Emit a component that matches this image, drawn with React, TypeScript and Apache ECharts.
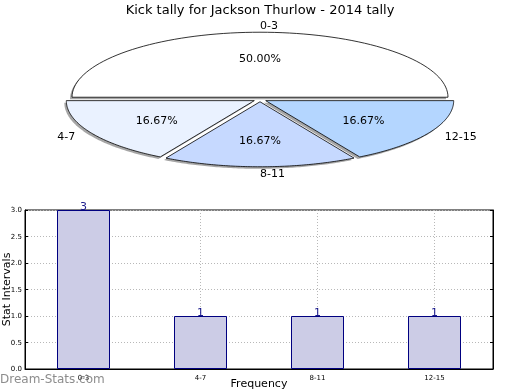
import React, { useEffect, useRef } from "react";
import * as echarts from "echarts";

const titleText = "Kick tally for Jackson Thurlow - 2014 tally";
const categories = ["0-3", "4-7", "8-11", "12-15"];
const tallyValues = [3, 1, 1, 1];
const sliceColors = ["#ffffff", "#eaf2ff", "#c6d9ff", "#b4d6ff"];
const yTicks = [0, 0.5, 1, 1.5, 2, 2.5, 3];
const watermark = "Dream-Stats.com";

const FONT = "DejaVu Sans";
const PIE = { cx: 260, cy: 99.5, rx: 188, ry: 65, explode: 0.035 };

function sliceGeom(idx: number) {
  const total = tallyValues.reduce((a, b) => a + b, 0);
  let before = 0;
  for (let i = 0; i < idx; i++) before += tallyValues[i];
  const a0 = (before / total) * 2 * Math.PI;
  const a1 = ((before + tallyValues[idx]) / total) * 2 * Math.PI;
  const mid = (a0 + a1) / 2;
  const ox = PIE.cx + Math.cos(mid) * PIE.explode * PIE.rx;
  const oy = PIE.cy - Math.sin(mid) * PIE.explode * PIE.ry;
  const pts: number[][] = [[ox, oy]];
  const n = 80;
  for (let k = 0; k <= n; k++) {
    const a = a0 + ((a1 - a0) * k) / n;
    pts.push([ox + Math.cos(a) * PIE.rx, oy - Math.sin(a) * PIE.ry]);
  }
  return { pts, mid, ox, oy, pct: (tallyValues[idx] / total) * 100 };
}

export default function App() {
  const ref = useRef<HTMLDivElement>(null);
  useEffect(() => {
    if (!ref.current) return;
    const chart = echarts.init(ref.current, null, { renderer: "svg" });
    const pieData = tallyValues.map((v, i) => ({ value: [v, i], name: categories[i] }));
    chart.setOption({
      animation: false,
      title: {
        text: titleText,
        left: "center",
        top: 1,
        padding: 0,
        textStyle: { fontFamily: FONT, fontSize: 13, fontWeight: "normal", color: "#000", lineHeight: 16 },
      },
      grid: {
        left: 25,
        right: 27,
        top: 210,
        bottom: 21,
        outerBoundsMode: "none",
        containLabel: false,
        show: true,
        borderColor: "#000",
        borderWidth: 1,
        backgroundColor: "transparent",
      },
      xAxis: {
        type: "category",
        data: categories,
        name: "Frequency",
        nameLocation: "middle",
        nameGap: 8,
        nameMoveOverlap: false,
        nameTextStyle: { fontFamily: FONT, fontSize: 11, color: "#000", lineHeight: 12 },
        axisLine: { lineStyle: { color: "#000" } },
        axisTick: { show: true, inside: true, alignWithLabel: true, length: 3, lineStyle: { color: "#000" } },
        axisLabel: { fontFamily: FONT, fontSize: 7, color: "#000", margin: 5 },
        splitLine: { show: true, alignWithLabel: true, lineStyle: { color: "#b8b8b8", type: [1, 2], width: 1 } },
      },
      yAxis: [
        {
          type: "value",
          min: yTicks[0],
          max: yTicks[yTicks.length - 1],
          interval: 0.5,
          name: "Stat Intervals",
          nameLocation: "middle",
          nameGap: 13,
          nameMoveOverlap: false,
          nameTextStyle: { fontFamily: FONT, fontSize: 11, color: "#000", lineHeight: 11 },
          axisLine: { show: true, lineStyle: { color: "#000" } },
          axisTick: { show: true, inside: true, length: 3, lineStyle: { color: "#000" } },
          axisLabel: { fontFamily: FONT, fontSize: 7, color: "#000", margin: 3, formatter: (v: number) => v.toFixed(1) },
          splitLine: { show: true, lineStyle: { color: "#b8b8b8", type: [1, 2], width: 1 } },
        },
        {
          type: "value",
          position: "right",
          min: yTicks[0],
          max: yTicks[yTicks.length - 1],
          interval: 0.5,
          axisLine: { show: true, lineStyle: { color: "#000" } },
          axisTick: { show: true, inside: true, length: 3, lineStyle: { color: "#000" } },
          axisLabel: { show: false },
          splitLine: { show: false },
        },
      ],
      series: [
        {
          type: "bar",
          data: tallyValues,
          barWidth: 53,
          itemStyle: { color: "#ccccE6", borderColor: "#000080", borderWidth: 1 },
          label: {
            show: true,
            position: "top",
            distance: -2,
            fontFamily: FONT,
            fontSize: 11,
            color: "#1a1a8c",
          },
          z: 3,
        },
        {
          type: "custom",
          coordinateSystem: "none",
          data: pieData,
          z: 1,
          renderItem: (params: any) => {
            const g = sliceGeom(params.dataIndex);
            return {
              type: "polygon",
              shape: { points: g.pts.map((p) => [p[0] - 2, p[1] + 2]) },
              style: { fill: "rgba(77,77,77,0.5)", stroke: "none" },
            };
          },
        },
        {
          type: "custom",
          coordinateSystem: "none",
          data: pieData,
          z: 2,
          renderItem: (params: any) => {
            const i = params.dataIndex;
            const g = sliceGeom(i);
            const c = Math.cos(g.mid);
            const s = Math.sin(g.mid);
            const lx = g.ox + c * 1.1 * PIE.rx;
            const ly = g.oy - s * 1.1 * PIE.ry;
            const px = g.ox + c * 0.6 * PIE.rx;
            const py = g.oy - s * 0.6 * PIE.ry;
            return {
              type: "group",
              children: [
                {
                  type: "polygon",
                  shape: { points: g.pts },
                  style: { fill: sliceColors[i], stroke: "#000", lineWidth: 0.8 },
                },
                {
                  type: "text",
                  x: px,
                  y: py,
                  style: {
                    text: g.pct.toFixed(2) + "%",
                    fontFamily: FONT,
                    fontSize: 11,
                    fill: "#000",
                    align: "center",
                    verticalAlign: "middle",
                  },
                },
                {
                  type: "text",
                  x: lx,
                  y: ly,
                  style: {
                    text: categories[i],
                    fontFamily: FONT,
                    fontSize: 11,
                    fill: "#000",
                    align: c >= -1e-9 ? "left" : "right",
                    verticalAlign: "middle",
                  },
                },
              ],
            };
          },
        },
      ],
      graphic: [
        {
          type: "text",
          left: 0,
          top: 373,
          z: 100,
          style: {
            text: watermark,
            fontFamily: FONT,
            fontSize: 12,
            fill: "rgba(120,120,120,0.85)",
          },
        },
      ],
    });
    return () => chart.dispose();
  }, []);
  return <div ref={ref} style={{ position: "fixed", left: 0, top: 0, width: 520, height: 390 }} />;
}
